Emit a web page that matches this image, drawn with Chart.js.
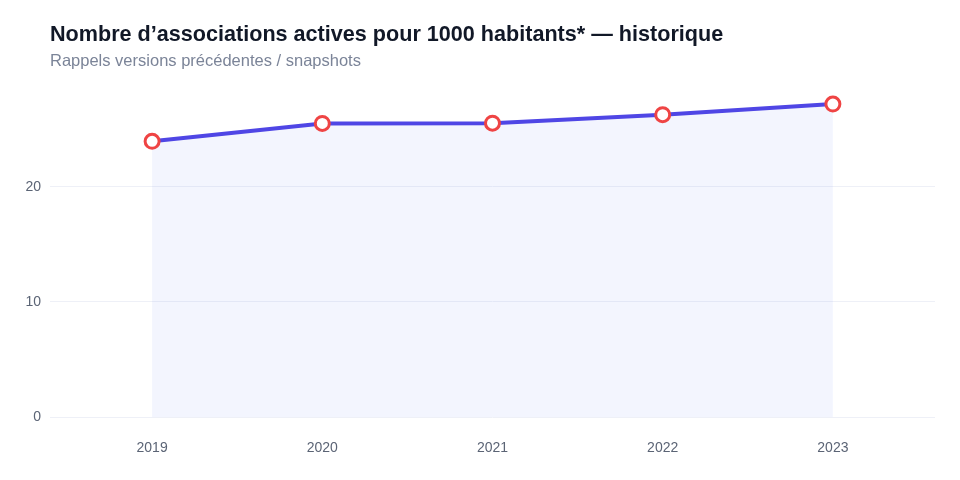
<!DOCTYPE html>
<html lang="fr">
<head>
<meta charset="utf-8">
<title>Associations actives pour 1000 habitants</title>
<script src="https://cdn.jsdelivr.net/npm/chart.js@4.4.1/dist/chart.umd.min.js"></script>
<style>
  html, body { margin: 0; padding: 0; background: #fff; }
  #wrap { position: relative; width: 960px; height: 480px; font-family: "Liberation Sans", Arial, sans-serif; }
  #wrap canvas { position: absolute; left: 0; top: 0; }
  #head { position: absolute; left: 50px; top: 20px; }
  #head h1 { margin: 0; font-size: 21.6px; font-weight: 700; color: #111827; line-height: 28px; }
  #head p { margin: 1px 0 0 0; font-size: 16.5px; color: #7b8498; line-height: 22px; }
</style>
</head>
<body>
<div id="wrap">
  <canvas id="lineChart" width="960" height="480"></canvas>
  <div id="head">
    <h1>Nombre d’associations actives pour 1000 habitants* — historique</h1>
    <p>Rappels versions précédentes / snapshots</p>
  </div>
</div>
<script>
// data
const years = [2019, 2020, 2021, 2022, 2023]
const assocPer1000 = [23.94, 25.5, 25.52, 26.26, 27.18]
const yTicks = [0, 10, 20]

const points = years.map((y, i) => ({ x: y, y: assocPer1000[i] }))

const ctx = document.getElementById('lineChart').getContext('2d')
const lineChart = new Chart(ctx, {
    type: 'line',
    data: {
        datasets: [{
            label: 'Associations / 1000 hab.',
            data: points,
            borderColor: '#4f46e5',
            borderWidth: 4,
            backgroundColor: 'rgba(79, 110, 240, 0.07)',
            fill: 'origin',
            tension: 0,
            pointRadius: 7,
            pointHoverRadius: 7,
            pointBackgroundColor: '#ffffff',
            pointBorderColor: '#ef4444',
            pointBorderWidth: 3,
            clip: false
        }]
    },
    options: {
        responsive: false,
        animation: false,
        layout: { padding: { left: 0, right: 25, top: 90, bottom: 0 } },
        plugins: {
            legend: { display: false },
            tooltip: { enabled: false }
        },
        scales: {
            x: {
                type: 'linear',
                min: 2018.4,
                max: 2023.6,
                grid: { display: false },
                border: { display: false },
                ticks: {
                    stepSize: 1,
                    includeBounds: false,
                    maxRotation: 0,
                    padding: 15,
                    color: '#5b6475',
                    font: { size: 14 },
                    callback: v => String(v)
                },
                afterBuildTicks: scale => {
                    scale.ticks = years.map(y => ({ value: y }))
                },
                afterFit: scale => { scale.height = 63 }
            },
            y: {
                min: 0,
                max: 28.4,
                grid: { color: '#eef0f7', lineWidth: 1, drawTicks: false },
                border: { display: false },
                ticks: {
                    padding: 9,
                    color: '#5b6475',
                    font: { size: 14 },
                    includeBounds: false
                },
                afterBuildTicks: scale => {
                    scale.ticks = yTicks.map(v => ({ value: v }))
                },
                afterFit: scale => { scale.width = 50 }
            }
        }
    }
})
</script>
</body>
</html>
